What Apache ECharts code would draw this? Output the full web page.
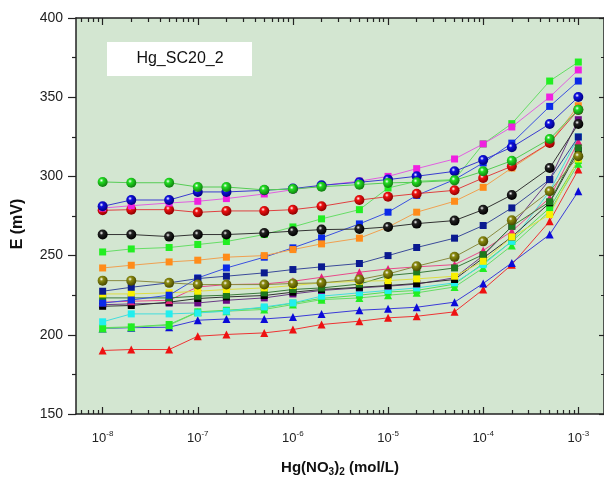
<!DOCTYPE html>
<html>
<head>
<meta charset="utf-8">
<script src="https://cdn.jsdelivr.net/npm/echarts@6/dist/echarts.min.js"></script>
<style>
  html, body { margin: 0; padding: 0; background: #fff; }
  #chart { width: 604px; height: 483px; }
</style>
</head>
<body>
<div id="chart"></div>
<script>
// Hg(NO3)2 concentrations (mol/L)
var conc = [1e-8, 2e-8, 5e-8, 1e-7, 2e-7, 5e-7, 1e-6, 2e-6, 5e-6, 1e-5, 2e-5, 5e-5, 1e-4, 2e-4, 5e-4, 1e-3];
var decades = [-8, -7, -6, -5, -4, -3];

// E (mV) per electrode
var greenSphere = [296.5, 296, 296, 293.3, 293.3, 291.5, 292, 293.5, 294.8, 295.9, 296.3, 297.5, 303.2, 309.9, 323.6, 342.1];
var blueSphere  = [281.1, 285.1, 285.1, 290.2, 290.2, 291.2, 292.3, 294.4, 296.3, 298, 300.1, 303.2, 310.4, 318.4, 333.1, 350.1];
var magentaSq   = [280, 281.5, 283.2, 284.3, 286, 288.9, 291.6, 294.2, 297, 300, 304.9, 311, 320.5, 331.2, 350.1, 367.2];
var redSphere   = [278.6, 279, 279, 277.3, 278.2, 278.2, 279, 281.1, 285.1, 287.2, 289.1, 291.2, 299, 306.4, 321.1, 342];
var blackSphere = [263.3, 263.3, 262, 263.3, 263.3, 264.3, 265.4, 266.4, 266.8, 268.1, 270.2, 272.1, 279, 288.3, 305.3, 333.1];
var greenSq     = [252.3, 254.2, 255.1, 257, 258.9, 263.3, 268.1, 273.2, 279, 292.7, 296.9, 298, 320.5, 333.3, 360.2, 372.2];
var orangeSq    = [242.2, 243.9, 246, 247.1, 249, 250, 253.8, 257.4, 261, 268, 277.4, 284.3, 293.1, 305.3, 321, 344.6];
var oliveSphere = [234.2, 234.2, 232.8, 231.7, 231.7, 231.7, 232.4, 232.8, 234.9, 238.4, 243.3, 249.2, 259, 272.3, 290.6, 312.7];
var navySq      = [227.5, 230, 232.8, 235.5, 237, 239.1, 241.2, 242.9, 245, 250, 255.1, 261, 269, 280.1, 298, 324.9];
var blueSq      = [220, 222, 225, 235.9, 242.2, 249, 254.9, 261.2, 270, 277.4, 288, 298, 308.5, 321, 344.2, 360.2];
var yellowSq    = [225.8, 225.8, 226.5, 227.5, 228.6, 229.6, 231.1, 232.8, 233.8, 234.2, 235.3, 237, 246.4, 261.8, 275.9, 311];
var darkGreenSq = [223.3, 223.3, 223.3, 224.4, 225, 226.5, 228.6, 229.6, 232, 237.4, 239.1, 242.2, 250.6, 268.5, 284, 318];
var pinkTri     = [220.6, 221.2, 221.8, 230.2, 231.7, 232.1, 233.8, 236.3, 239.5, 241.6, 242.9, 244.3, 253.2, 265.4, 286.4, 322.1];
var blackSq     = [218, 218.5, 220.6, 222.9, 223.9, 224.8, 226.9, 228.6, 230, 231.1, 232.4, 234.9, 248.5, 261.8, 283.3, 316.3];
var purpleSq    = [219, 219.5, 220, 220.1, 221.8, 223.3, 225.8, 228, 229.6, 230.7, 232, 236, 250, 268.5, 298, 335.8];
var cyanSq      = [208.2, 213.2, 213.2, 213.8, 214.9, 217.6, 220.1, 224.4, 226.5, 228, 229.6, 232.8, 244.3, 259, 290.6, 324.9];
var greenTri    = [204, 204.8, 206.1, 214.3, 214.9, 216, 219.1, 222.2, 223.3, 225, 226.5, 230.2, 242.2, 256.3, 278, 308];
var greenSq2    = [204.5, 205, 206.5, 214.5, 215.5, 217, 220, 223, 225, 227, 228, 232, 245, 259, 280.1, 310];
var blueTri     = [204, 204.5, 204.8, 209.2, 210, 210, 211.3, 213.2, 215.5, 216.4, 217.4, 220.6, 232.4, 245.4, 263.3, 290.6];
var redTri      = [190.1, 190.7, 190.7, 199.1, 200.2, 201.2, 203.3, 206.5, 208.6, 210.7, 211.7, 214.5, 228.6, 244.3, 271.7, 304.3];

var FONT = 'Liberation Sans, Arial, sans-serif';

// shaded ball like Origin's sphere symbol
function ball(c, dark) {
  return {
    type: 'radial', x: 0.38, y: 0.35, r: 0.65,
    colorStops: [
      {offset: 0, color: '#ffffff'},
      {offset: 0.3, color: c},
      {offset: 1, color: dark}
    ]
  };
}

function mk(vals, symbol, color, lineColor, size, fill) {
  return {
    type: 'line',
    data: conc.map(function (c, i) { return [Math.log10(c), vals[i]]; }),
    symbol: symbol,
    symbolSize: size,
    showAllSymbol: true,
    lineStyle: {width: 1, color: lineColor},
    itemStyle: {color: fill || color, borderWidth: 0},
    emphasis: {disabled: true},
    z: 3
  };
}

// minor tick positions in log space
var minorTicks = [];
for (var d = -9; d <= -3; d++) {
  for (var k = 2; k <= 9; k++) {
    var v = d + Math.log10(k);
    if (v > -8.28 && v < -2.73) minorTicks.push(v);
  }
}

var xMin = -8.28, xMax = -2.73;

function xAxisCfg(pos, ticks, len, labels) {
  return {
    type: 'value', position: pos, gridIndex: 0,
    min: xMin, max: xMax,
    axisLine: {show: labels, lineStyle: {color: '#222', width: 1.5}},
    splitLine: {show: false},
    axisTick: {show: true, inside: true, length: len, customValues: ticks, lineStyle: {color: '#222', width: 1.2}},
    axisLabel: labels && pos === 'bottom' ? {
      show: true, customValues: decades, margin: 16, color: '#222',
      formatter: function (v) { return '{b|10}{s|' + Math.round(v) + '}'; },
      rich: {
        b: {fontSize: 13, fontFamily: FONT, color: '#222'},
        s: {fontSize: 8, fontFamily: FONT, color: '#222', padding: [0, 0, 9, 0]}
      }
    } : {show: false}
  };
}

var chart = echarts.init(document.getElementById('chart'));
chart.setOption({
  animation: false,
  grid: {
    left: 76, top: 18, width: 529, height: 396,
    show: true, backgroundColor: '#d3e6d1', borderWidth: 0
  },
  xAxis: [
    xAxisCfg('bottom', decades, 7, true),
    xAxisCfg('bottom', minorTicks, 4, false),
    xAxisCfg('top', decades, 7, true),
    xAxisCfg('top', minorTicks, 4, false)
  ],
  yAxis: [
    {
      type: 'value', position: 'left', min: 150, max: 400, interval: 50,
      axisLine: {show: true, lineStyle: {color: '#222', width: 1.5}},
      axisTick: {show: true, length: 8, lineStyle: {color: '#222', width: 1.2}},
      minorTick: {show: true, splitNumber: 2, length: 4, lineStyle: {color: '#222', width: 1.2}},
      splitLine: {show: false},
      axisLabel: {fontSize: 14, fontFamily: FONT, color: '#222', margin: 13}
    },
    {
      type: 'value', position: 'right', min: 150, max: 400, interval: 50,
      axisLine: {show: true, lineStyle: {color: '#222', width: 1.5}},
      axisTick: {show: true, inside: true, length: 5, lineStyle: {color: '#222', width: 1.2}},
      minorTick: {show: true, splitNumber: 2, length: 3, lineStyle: {color: '#222', width: 1}},
      splitLine: {show: false},
      axisLabel: {show: false}
    }
  ],
  series: [
    mk(redTri, 'triangle', '#ee1111', '#ee3333', 8),
    mk(blueTri, 'triangle', '#0a0ad8', '#3a3ad8', 8),
    mk(greenSq2, 'rect', '#22ee22', '#55dd55', 7),
    mk(greenTri, 'triangle', '#22ee22', '#66dd66', 8),
    mk(cyanSq, 'rect', '#22eeee', '#44dddd', 7),
    mk(purpleSq, 'rect', '#6a0a86', '#6a3a86', 7),
    mk(blackSq, 'rect', '#000000', '#333333', 7),
    mk(pinkTri, 'triangle', '#e8207a', '#e84a8a', 8),
    mk(darkGreenSq, 'rect', '#1e7a1e', '#3a7a3a', 7),
    mk(yellowSq, 'rect', '#f8f000', '#dddd44', 7),
    mk(blueSq, 'rect', '#0a2ae8', '#3a50e0', 7),
    mk(navySq, 'rect', '#0a1a90', '#3a4a9a', 7),
    mk(oliveSphere, 'circle', '#8a8a10', '#8a8a40', 10, ball('#8a8a10', '#4a4a00')),
    mk(orangeSq, 'rect', '#ff8c1a', '#f0a050', 7),
    mk(greenSq, 'rect', '#22ee22', '#66dd66', 7),
    mk(blackSphere, 'circle', '#111111', '#333333', 10, ball('#222222', '#000000')),
    mk(redSphere, 'circle', '#ee1111', '#e04040', 10, ball('#ee1111', '#900000')),
    mk(magentaSq, 'rect', '#f020e0', '#e060e0', 7),
    mk(blueSphere, 'circle', '#0a0ad8', '#3a3ad0', 10, ball('#1010dd', '#000080')),
    mk(greenSphere, 'circle', '#22dd22', '#55cc55', 10, ball('#22dd22', '#108010'))
  ],
  graphic: [
    {
      type: 'rect', left: 107, top: 42, z: 10,
      shape: {width: 145, height: 34},
      style: {fill: '#ffffff'}
    },
    {
      type: 'text', z: 11, x: 180, y: 59,
      style: {text: 'Hg_SC20_2', font: '16px ' + FONT, fill: '#111', align: 'center', verticalAlign: 'middle'}
    },
    {
      type: 'text', z: 11, x: 340, y: 468,
      style: {
        text: '{a|Hg(NO}{s|3}{a|)}{s|2}{a| (mol/L)}',
        align: 'center', verticalAlign: 'middle',
        rich: {
          a: {font: 'bold 15px ' + FONT, fill: '#111'},
          s: {font: 'bold 10px ' + FONT, fill: '#111', padding: [8, 0, 0, 0]}
        }
      }
    },
    {
      type: 'text', z: 11, x: 18, y: 224, rotation: Math.PI / 2,
      style: {text: 'E (mV)', font: 'bold 16px ' + FONT, fill: '#111', align: 'center', verticalAlign: 'middle'}
    }
  ]
});
</script>
</body>
</html>
